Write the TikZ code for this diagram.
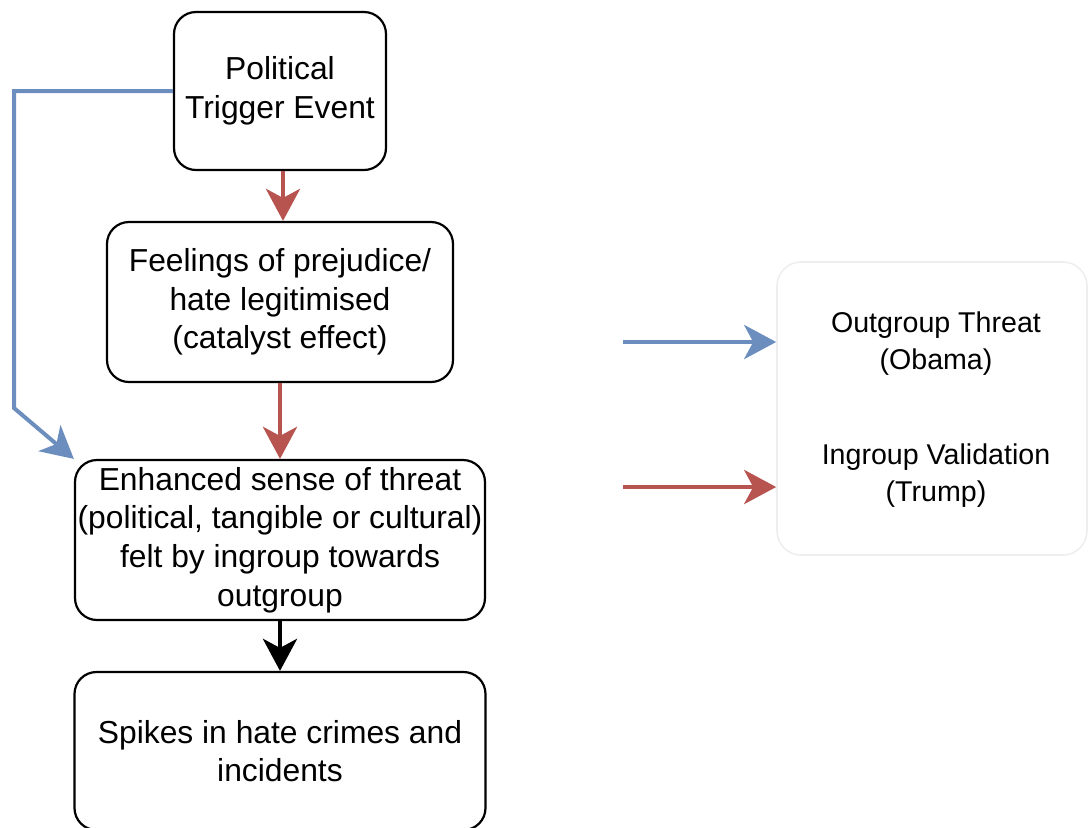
\documentclass[tikz,border=0pt]{standalone}
\usepackage{fontspec}
\setmainfont{Liberation Sans}
\usetikzlibrary{arrows.meta}

\definecolor{linkblue}{HTML}{6C8EBF}
\definecolor{linkred}{HTML}{B85450}
\definecolor{legendgray}{HTML}{EEEEEE}

\tikzset{
  stage/.style={draw=black, line width=1.1pt, rounded corners=11pt,
    align=center, inner sep=0pt, font=\fontsize{15.9}{19.3}\selectfont},
  flow/.style={line width=2.4pt, -{Stealth[length=16pt, width=17pt, inset=4.5pt]}},
  legendtext/.style={align=center, font=\fontsize{14.3}{18.5}\selectfont},
}

\begin{document}
\begin{tikzpicture}[x=0.5pt, y=-0.5pt]
\useasboundingbox (0,0) rectangle (1088,827);
\clip (0,0) rectangle (1088,827);

% Stages
\node[stage, minimum width=106pt, minimum height=79pt] (trigger) at (280,91)
  {Political\\Trigger Event};
\node[stage, minimum width=173pt, minimum height=80pt] (feelings) at (280,302)
  {Feelings of prejudice/\\hate legitimised\\(catalyst effect)};
\node[stage, minimum width=205pt, minimum height=80pt] (enhanced) at (280,540)
  {Enhanced sense of threat\\(political, tangible or cultural)\\felt by ingroup towards\\outgroup};
\node[stage, minimum width=205.5pt, minimum height=79pt] (spikes) at (280,751)
  {Spikes in hate crimes and\\incidents};

% Legend
\node[draw=legendgray, line width=0.8pt, rounded corners=12pt,
    minimum width=155pt, minimum height=146.5pt] (legend) at (932,408.5) {};
\node[legendtext] (outgroup) at (936,344) {Outgroup Threat\\(Obama)};
\node[legendtext] (ingroup) at (936,476) {Ingroup Validation\\(Trump)};

\coordinate (threattail) at (623,342);
\coordinate (validtail) at (623,487);
\coordinate (bend) at (14,408);

% Connectors
\draw[flow, linkred] ([xshift=1.5pt]trigger.south) -- ([xshift=1.5pt]feelings.north);
\draw[flow, linkred] (feelings) -- (enhanced);
\draw[flow, black] (enhanced) -- (spikes);
\draw[flow, linkblue, line width=2pt] (trigger.west) -| (bend) -- (enhanced.north west);

\draw[flow, linkblue] (threattail) -- (threattail -| legend.west);
\draw[flow, linkred] (validtail) -- (validtail -| legend.west);

\end{tikzpicture}
\end{document}
